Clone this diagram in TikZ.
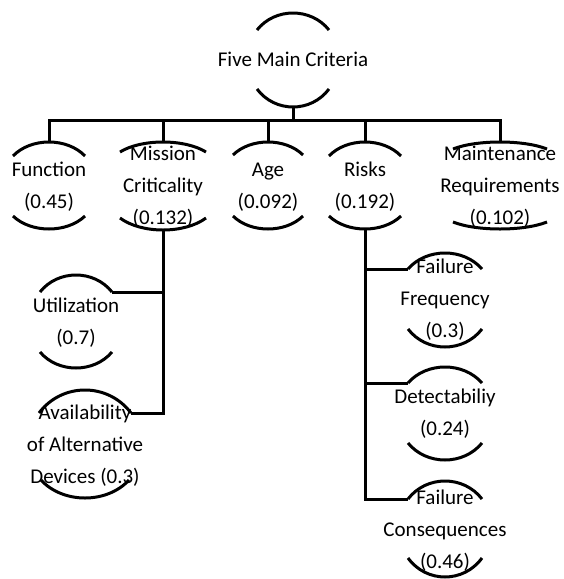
\documentclass[tikz,border=0pt]{standalone}
\usepackage{fontspec}
\setmainfont{Carlito}
\newcommand{\critarcs}[8]{%
  \pgfmathsetmacro{\ctlA}{(4*#3-#4)/3}%
  \pgfmathsetmacro{\ctlB}{(4*#7-#6)/3}%
  \draw[arcline] ({#2-#5},#4) .. controls ({#2-#5/2},\ctlA) and ({#2+#5/2},\ctlA) .. ({#2+#5},#4);
  \draw[arcline] ({#2-#8},#6) .. controls ({#2-#8/2},\ctlB) and ({#2+#8/2},\ctlB) .. ({#2+#8},#6);
  \coordinate (#1-t) at (#2,#3);
  \coordinate (#1-b) at (#2,#7);
  \coordinate (#1-l) at ({#2-#5},#4);
  \coordinate (#1-r) at ({#2+#5},#4);
}
\begin{document}
\begin{tikzpicture}[x=1pt,y=-1pt,
  arcline/.style={line width=3pt},
  link/.style={line width=3pt},
  lbl/.style={font=\fontsize{21}{32}\selectfont, align=center, inner sep=0pt}]
\useasboundingbox (0,0) rectangle (563,579);

% labels
\node[lbl] (main)  at (293,60)  {\strut Five Main Criteria};
\node[lbl] (func)  at (49,186)  {\strut Function\\\strut (0.45)};
\node[lbl] (mis)   at (163,186) {\strut Mission\\\strut Criticality\\\strut (0.132)};
\node[lbl] (age)   at (268,186) {\strut Age\\\strut (0.092)};
\node[lbl] (risk)  at (365,186) {\strut Risks\\\strut (0.192)};
\node[lbl] (maint) at (500,186) {\strut Maintenance\\\strut Requirements\\\strut (0.102)};
\node[lbl] (util)  at (76,322)  {\strut Utilization\\\strut (0.7)};
\node[lbl] (avail) at (85,445)  {\strut Availability\\\strut of Alternative\\\strut Devices (0.3)};
\node[lbl] (ff)    at (445,299) {\strut Failure\\\strut Frequency\\\strut (0.3)};
\node[lbl] (det)   at (445,413) {\strut Detectabiliy\\\strut (0.24)};
\node[lbl] (fc)    at (445,530) {\strut Failure\\\strut Consequences\\\strut (0.46)};

% arcs: name, cx, top peak, top end, half width, bottom end, bottom low, half width
\critarcs{mainA}{293}{13}{30}{36}{89}{107}{36}
\critarcs{funcA}{49}{142}{156}{36}{216}{229}{36}
\critarcs{misA}{163}{142}{152}{43}{218}{230}{43}
\critarcs{ageA}{268}{142}{155}{35}{216}{229}{35}
\critarcs{riskA}{365}{142}{156}{36}{216}{229}{36}
\critarcs{maintA}{500}{142}{149}{47}{222}{229}{47}
\critarcs{utilA}{76}{275}{292}{36}{352}{368}{36}
\critarcs{availA}{85}{390}{413}{46}{480}{498}{44}
\critarcs{ffA}{445}{253}{269}{37}{329}{347}{37}
\critarcs{detA}{445}{367}{383}{37}{443}{460}{37}
\critarcs{fcA}{445}{481}{499}{37}{558}{577}{37}

% connectors
\coordinate (bar) at (293,120);
\draw[link] (mainA-b) -- (bar);
\draw[link] (funcA-t) |- (bar) -| (maintA-t);
\draw[link] (misA-t) -- (misA-t |- bar);
\draw[link] (ageA-t) -- (ageA-t |- bar);
\draw[link] (riskA-t) -- (riskA-t |- bar);
\draw[link] (misA-b) |- (utilA-r);
\draw[link] (misA-b) |- (availA-r);
\draw[link] (riskA-b) |- (ffA-l);
\draw[link] (riskA-b) |- (detA-l);
\draw[link] (riskA-b) |- (fcA-l);
\end{tikzpicture}
\end{document}
